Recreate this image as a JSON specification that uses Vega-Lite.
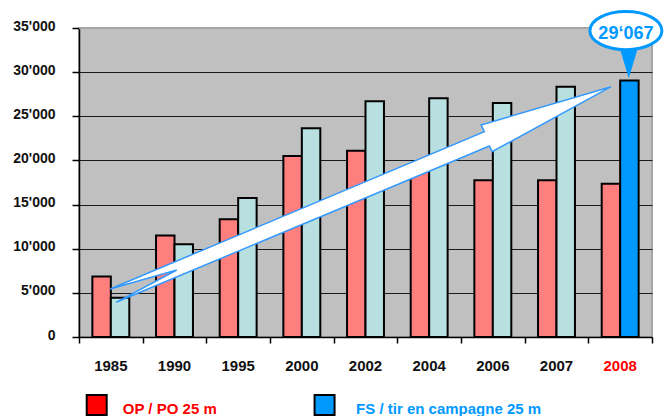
{
  "$schema": "https://vega.github.io/schema/vega-lite/v6.json",
  "width": 573,
  "height": 309,
  "autosize": {"type": "none"},
  "padding": {"left": 79, "top": 28, "right": 13, "bottom": 79},
  "config": {
    "font": "Liberation Sans",
    "view": {"fill": "#C0C0C0", "stroke": "#A6A6A6", "strokeWidth": 2}
  },
  "datasets": {
    "bars": [
      {"year": "1985", "series": "OP / PO 25 m", "value": 6850},
      {"year": "1985", "series": "FS / tir en campagne 25 m", "value": 4450},
      {"year": "1990", "series": "OP / PO 25 m", "value": 11500},
      {"year": "1990", "series": "FS / tir en campagne 25 m", "value": 10500},
      {"year": "1995", "series": "OP / PO 25 m", "value": 13350},
      {"year": "1995", "series": "FS / tir en campagne 25 m", "value": 15750},
      {"year": "2000", "series": "OP / PO 25 m", "value": 20500},
      {"year": "2000", "series": "FS / tir en campagne 25 m", "value": 23650},
      {"year": "2002", "series": "OP / PO 25 m", "value": 21100},
      {"year": "2002", "series": "FS / tir en campagne 25 m", "value": 26700},
      {"year": "2004", "series": "OP / PO 25 m", "value": 19500},
      {"year": "2004", "series": "FS / tir en campagne 25 m", "value": 27050},
      {"year": "2006", "series": "OP / PO 25 m", "value": 17750},
      {"year": "2006", "series": "FS / tir en campagne 25 m", "value": 26500},
      {"year": "2007", "series": "OP / PO 25 m", "value": 17750},
      {"year": "2007", "series": "FS / tir en campagne 25 m", "value": 28350},
      {"year": "2008", "series": "OP / PO 25 m", "value": 17350},
      {"year": "2008", "series": "FS / tir en campagne 25 m", "value": 29067}
    ],
    "arrow": [{"x": 8.358, "value": 28352}],
    "callout": [{"x": 8.59, "value": 34700, "label": "29‘067"}],
    "pointer": [{"x": 8.635, "value": 32700}],
    "legend": [
      {"series": "OP / PO 25 m", "sx": 0.278, "tx": 0.688, "sy": -7702, "ty": -8099},
      {"series": "FS / tir en campagne 25 m", "sx": 3.857, "tx": 4.352, "sy": -7702, "ty": -8099}
    ]
  },
  "layer": [
    {
      "data": {"name": "bars"},
      "mark": {"type": "bar", "stroke": "black", "strokeWidth": 2},
      "encoding": {
        "x": {
          "field": "year",
          "type": "nominal",
          "sort": null,
          "scale": {"paddingInner": 0.42, "paddingOuter": 0.21},
          "axis": {
            "orient": "bottom",
            "title": null,
            "ticks": false,
            "domain": false,
            "labelAngle": 0,
            "labelFontSize": 15,
            "labelFontWeight": "bold",
            "labelBaseline": "middle",
            "labelPadding": 28,
            "labelColor": {"condition": {"test": "datum.value === '2008'", "value": "#FF0000"}, "value": "#111111"}
          }
        },
        "xOffset": {
          "field": "series",
          "type": "nominal",
          "sort": ["OP / PO 25 m", "FS / tir en campagne 25 m"],
          "scale": {"paddingInner": 0, "paddingOuter": 0}
        },
        "y": {
          "field": "value",
          "type": "quantitative",
          "scale": {"domain": [0, 35000], "nice": false},
          "axis": {
            "title": null,
            "values": [0, 5000, 10000, 15000, 20000, 25000, 30000, 35000],
            "labelExpr": "replace(format(datum.value, ','), ',', \"'\")",
            "tickSize": 7,
            "tickColor": "#000000",
            "tickWidth": 1.5,
            "domainColor": "#000000",
            "domainWidth": 1.5,
            "grid": true,
            "gridColor": "#1a1a1a",
            "gridOpacity": 1,
            "gridWidth": 1,
            "labelFontSize": 14,
            "labelFontWeight": "bold",
            "labelColor": "#111111",
            "labelPadding": 17,
            "labelOffset": -2
          }
        },
        "fill": {
          "condition": {"test": "datum.year === '2008' && datum.series === 'FS / tir en campagne 25 m'", "value": "#0099FF"},
          "field": "series",
          "type": "nominal",
          "scale": {"domain": ["OP / PO 25 m", "FS / tir en campagne 25 m"], "range": ["#FF7F7F", "#B8E0E0"]},
          "legend": null
        }
      }
    },
    {
      "layer": [
        {
          "data": {"values": [{}]},
          "mark": {"type": "rule", "stroke": "#A6A6A6", "strokeWidth": 2},
          "encoding": {
            "y": {"datum": 35000, "type": "quantitative", "scale": {"domain": [0, 35000], "nice": false}}
          }
        },
        {
          "data": {"name": "arrow"},
          "mark": {"type": "point", "shape": "M 0 0 L -1.19 0.65 L -1.217 0.593 L -4.95 2.156 L -4.344 1.833 L -5.01 2.023 L -1.267 0.45 L -1.3 0.383 Z", "size": 40000, "filled": true, "fill": "#FFFFFF", "stroke": "#3399FF", "strokeWidth": 1.5, "strokeJoin": "miter", "opacity": 1},
          "encoding": {
            "x": {
              "field": "x",
              "type": "quantitative",
              "scale": {"domain": [0, 9], "nice": false, "zero": false},
              "axis": {
                "orient": "bottom",
                "title": null,
                "values": [0, 1, 2, 3, 4, 5, 6, 7, 8, 9],
                "labels": false,
                "grid": false,
                "ticks": true,
                "tickSize": 6,
                "tickColor": "#000000",
                "tickWidth": 1.5,
                "domain": true,
                "domainColor": "#000000",
                "domainWidth": 1.5
              }
            },
            "y": {"field": "value", "type": "quantitative", "title": null, "scale": {"domain": [0, 35000], "nice": false}}
          }
        },
        {
          "data": {"name": "pointer"},
          "mark": {"type": "point", "shape": "M -0.3 0 L 0.3 0 L 0 1 Z", "size": 3600, "fill": "#0099FF", "strokeWidth": 0, "opacity": 1, "filled": true},
          "encoding": {
            "x": {"field": "x", "type": "quantitative", "scale": {"domain": [0, 9], "nice": false, "zero": false}},
            "y": {"field": "value", "type": "quantitative", "title": null, "scale": {"domain": [0, 35000], "nice": false}}
          }
        },
        {
          "data": {"name": "callout"},
          "mark": {"type": "point", "shape": "M -1 0 A 1 0.53 0 1 1 1 0 A 1 0.53 0 1 1 -1 0 Z", "size": 5184, "fill": "white", "stroke": "#0099FF", "strokeWidth": 3, "opacity": 1},
          "encoding": {
            "x": {"field": "x", "type": "quantitative", "scale": {"domain": [0, 9], "nice": false, "zero": false}},
            "y": {"field": "value", "type": "quantitative", "title": null, "scale": {"domain": [0, 35000], "nice": false}}
          }
        },
        {
          "data": {"name": "callout"},
          "mark": {"type": "text", "fontSize": 18, "fontWeight": "bold", "color": "#0099FF", "align": "center", "baseline": "middle", "dy": 3},
          "encoding": {
            "x": {"field": "x", "type": "quantitative", "scale": {"domain": [0, 9], "nice": false, "zero": false}},
            "y": {"field": "value", "type": "quantitative", "title": null, "scale": {"domain": [0, 35000], "nice": false}},
            "text": {"field": "label", "type": "nominal"}
          }
        },
        {
          "data": {"name": "legend"},
          "mark": {"type": "point", "shape": "square", "size": 400, "filled": true, "stroke": "#000000", "strokeWidth": 2, "opacity": 1},
          "encoding": {
            "x": {"field": "sx", "type": "quantitative", "scale": {"domain": [0, 9], "nice": false, "zero": false}},
            "y": {"field": "sy", "type": "quantitative", "title": null, "scale": {"domain": [0, 35000], "nice": false}},
            "color": {
              "field": "series",
              "type": "nominal",
              "scale": {"domain": ["OP / PO 25 m", "FS / tir en campagne 25 m"], "range": ["#FF0000", "#0099FF"]},
              "legend": null
            }
          }
        },
        {
          "data": {"name": "legend"},
          "mark": {"type": "text", "fontSize": 15, "fontWeight": "bold", "align": "left", "baseline": "middle"},
          "encoding": {
            "x": {"field": "tx", "type": "quantitative", "scale": {"domain": [0, 9], "nice": false, "zero": false}},
            "y": {"field": "ty", "type": "quantitative", "title": null, "scale": {"domain": [0, 35000], "nice": false}},
            "text": {"field": "series", "type": "nominal"},
            "color": {
              "field": "series",
              "type": "nominal",
              "scale": {"domain": ["OP / PO 25 m", "FS / tir en campagne 25 m"], "range": ["#FF0000", "#0099FF"]},
              "legend": null
            }
          }
        }
      ]
    }
  ],
  "resolve": {"scale": {"x": "independent"}}
}
